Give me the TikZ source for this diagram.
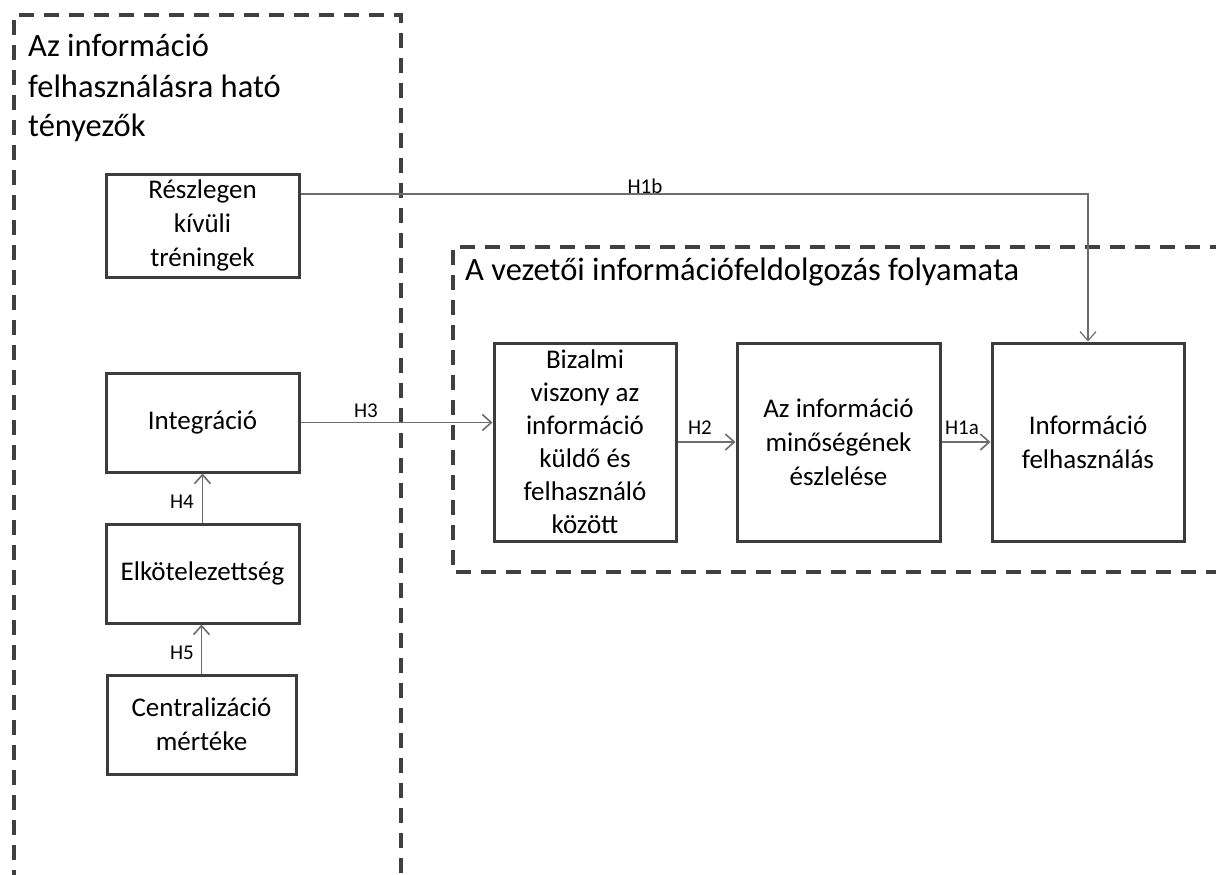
\documentclass[tikz,border=0pt]{standalone}
\usepackage{fontspec}
\setmainfont{Carlito}
\usetikzlibrary{arrows.meta}
\definecolor{boxgray}{HTML}{3C3C3C}
\definecolor{framegray}{HTML}{404040}
\definecolor{conngray}{HTML}{6D6D6D}
\begin{document}
\begin{tikzpicture}[x=1pt,y=-1pt,
  frame/.style={draw=framegray, line width=4pt, dash pattern=on 15pt off 10pt},
  box/.style={draw=boxgray, line width=3pt, fill=white, align=center,
    font=\fontsize{27}{34}\selectfont, inner sep=0pt},
  conn/.style={draw=conngray, line width=1.6pt, -{Straight Barb[length=9pt,width=16pt]}},
  thinconn/.style={conn, line width=1.2pt},
  lbl/.style={font=\fontsize{21}{25}\selectfont, inner sep=0pt, text=black},
  ttl/.style={font=\fontsize{32.5}{40}\selectfont, inner sep=0pt, anchor=base west}]
\useasboundingbox (0,0) rectangle (1216,875);
\fill[white] (0,0) rectangle (1216,875);

% frames
\draw[frame] (14,885) -- (14,15) -- (401,15) -- (401,885);
\draw[frame] (1225,247) -- (453,247) -- (453,572) -- (1225,572);

% titles
\node[ttl] (t1) at (28,57) {\baselineskip=40pt\vtop{\hbox{Az információ}\hbox{felhasználásra ható}\hbox{tényezők}}};
\node[ttl] (t2) at (465,280) {A vezetői információfeldolgozás folyamata};

% boxes
\node[box, minimum width=193pt, minimum height=103pt] (resz) at (202.5,225.5) {Részlegen\\kívüli\\tréningek};
\node[box, minimum width=193pt, minimum height=99pt] (integ) at (202.5,422.5) {Integráció};
\node[box, minimum width=193pt, minimum height=99pt] (elk) at (202.5,573.5) {Elkötelezettség};
\node[box, minimum width=189pt, minimum height=99pt] (cent) at (201.5,724.5) {Centralizáció\\mértéke};
\node[box, minimum width=182pt, minimum height=198pt, font=\fontsize{27}{33}\selectfont] (biz) at (585,442) {Bizalmi\\viszony az\\információ\\küldő és\\felhasználó\\között};
\node[box, minimum width=203pt, minimum height=198pt] (esz) at (838.5,442) {Az információ\\minőségének\\észlelése};
\node[box, minimum width=192pt, minimum height=198pt] (fel) at (1088,442) {Információ\\felhasználás};

% connectors
\path (resz.east) ++(0,-31.5) coordinate (h1bs);
\draw[thinconn] (h1bs) -| (fel.north);
\draw[conn] (integ.east) -- (integ.east -| biz.west);
\draw[conn] (elk.north) -- (integ.south);
\draw[conn] (cent.north) -- (cent.north |- elk.south);
\draw[conn] (biz.east) -- (esz.west);
\draw[conn] (esz.east) -- (fel.west);

% labels
\node[lbl] (lh1b) at (645,186) {H1b};
\node[lbl] (lh3) at (366,411) {H3};
\node[lbl] (lh4) at (182,502) {H4};
\node[lbl] (lh5) at (182,653) {H5};
\node[lbl] (lh2) at (700,428) {H2};
\node[lbl] (lh1a) at (962,428) {H1a};
\end{tikzpicture}
\end{document}
